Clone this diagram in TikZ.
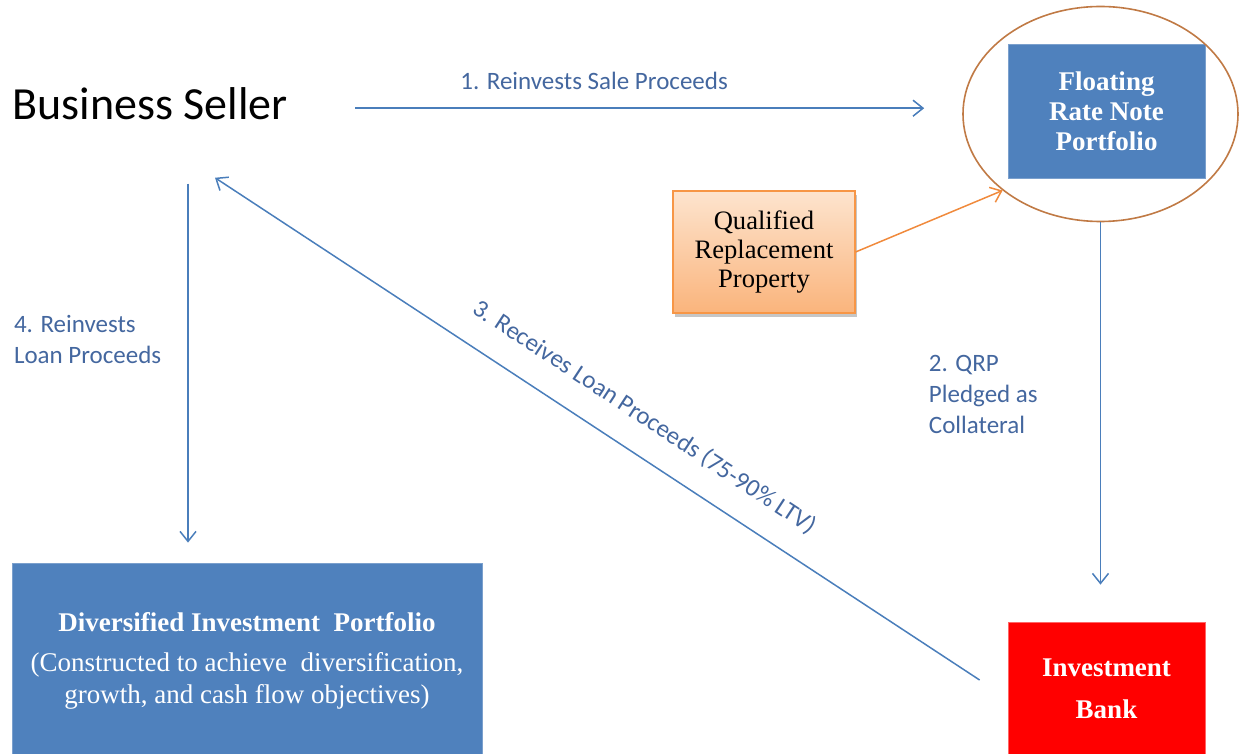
\documentclass[tikz,border=0pt]{standalone}
\usepackage{fontspec}
\setmainfont{Liberation Serif}
\newfontfamily\calibri{Carlito}
\usetikzlibrary{arrows.meta,calc,positioning,shapes.geometric,shadows}
\definecolor{BoxBlue}{HTML}{4F81BD}
\definecolor{LineBlue}{HTML}{4A7EBB}
\definecolor{LabelBlue}{HTML}{44679F}
\definecolor{RingBrown}{HTML}{C07A45}
\definecolor{ArrowOrange}{HTML}{F08A3C}
\definecolor{QrpEdge}{HTML}{F79646}
\definecolor{QrpTop}{HTML}{FDE4CE}
\definecolor{QrpBottom}{HTML}{FAB47C}
\definecolor{BankRed}{HTML}{FF0000}
\tikzset{
  flow/.style={-{Straight Barb[length=5pt,width=8pt]},draw=LineBlue,line width=.75pt},
  qrpflow/.style={flow,draw=ArrowOrange},
  lbl/.style={font=\calibri\fontsize{12.5}{15.5}\selectfont,text=LabelBlue,align=left,inner sep=0pt},
  sellertext/.style={font=\calibri\fontsize{23}{27}\selectfont,inner sep=0pt},
  bluebox/.style={fill=BoxBlue,draw=BoxBlue!75!white,line width=.4pt,text=white,align=center,inner sep=0pt},
  redbox/.style={fill=BankRed,draw=BankRed!60!white,line width=.4pt,text=white,align=center,inner sep=0pt},
  boxfont/.style={font=\bfseries\fontsize{13.5}{15}\selectfont},
  qrpbox/.style={draw=QrpEdge,line width=.6pt,top color=QrpTop,bottom color=QrpBottom,
    align=center,inner sep=0pt,font=\fontsize{13.3}{14.5}\selectfont,
    drop shadow={shadow xshift=1.2pt,shadow yshift=-1.8pt,opacity=.45}},
  ring/.style={ellipse,draw=RingBrown,line width=.8pt,inner sep=0pt}
}

\begin{document}
\begin{tikzpicture}[x=.5pt,y=-.5pt]
  \useasboundingbox (0,0) rectangle (1239,754);
  \clip (0,0) rectangle (1239,754);
  % parties
  \node[sellertext,anchor=base west] (seller) at (12,120) {Business Seller};
  \node[bluebox,boxfont,minimum width=98.5pt,minimum height=67pt] (frn) at (1106.5,111)
    {Floating\\Rate Note\\Portfolio};
  \node[ring,minimum width=137.5pt,minimum height=107.5pt] (ring) at (1100.5,114) {};
  \node[qrpbox,minimum width=91pt,minimum height=61pt] (qrp) at (764,252)
    {Qualified\\Replacement\\Property};
  \node[redbox,boxfont,minimum width=98.5pt,minimum height=67pt] (bank) at (1106.5,689)
    {Investment\\[6pt]Bank};
  \node[bluebox,font=\fontsize{13.5}{16}\selectfont,minimum width=235pt,minimum height=98pt] (dip) at (247,661)
    {\textbf{Diversified Investment\ \ Portfolio}\\[4pt]
     (Constructed to achieve\ \ diversification,\\
     growth, and cash flow objectives)};
  % flows
  \draw[flow] ($(seller.east)+(67,4)$) --
    node[lbl,above=9pt,pos=.42] {1. Reinvests Sale Proceeds}
    ($(seller.east -| ring.west)+(-38,4)$);
  \draw[qrpflow] (qrp.east) -- (ring.218);
  \draw[flow,shorten >=18.5pt] (ring.south) --
    node[lbl,left=31pt,pos=.43] {2. QRP\\Pledged as\\Collateral}
    (ring.south |- bank.north);
  \coordinate (bankout) at ($(bank.west)+(-28,-9)$);
  \coordinate (sellerin) at ($(seller.south)+(65,57)$);
  \draw[flow] (bankout) --
    node[lbl,sloped,above=12pt,pos=.464] {3. Receives Loan Proceeds (75-90\% LTV)}
    (sellerin);
  \coordinate (sellerout) at ($(seller.south)+(38,63)$);
  \draw[flow,shorten >=10pt] (sellerout) --
    node[lbl,left=13pt,pos=.41] {4. Reinvests\\Loan Proceeds}
    (sellerout |- dip.north);
\end{tikzpicture}
\end{document}
